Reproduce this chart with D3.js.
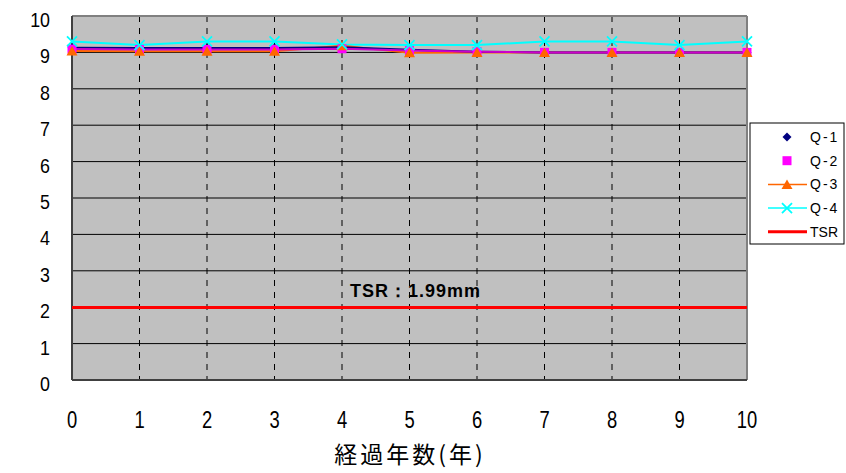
<!DOCTYPE html>
<html><head><meta charset="utf-8">
<script src="https://cdn.jsdelivr.net/npm/d3@7"></script>
<style>body{margin:0;background:#fff}</style>
</head><body>
<svg id="c" width="846" height="473"></svg>
<script>
const years = [0,1,2,3,4,5,6,7,8,9,10];
const q1 = [9.13,9.12,9.12,9.12,9.14,9.07,9.02,9.0,9.0,9.0,9.0];
const q2 = [9.09,9.08,9.08,9.08,9.1,9.05,9.02,9.0,9.0,9.0,9.0];
const q3 = [9.04,9.03,9.03,9.03,9.18,8.99,9.0,9.0,9.0,9.0,9.0];
const q4 = [9.3,9.2,9.3,9.3,9.22,9.2,9.2,9.3,9.3,9.2,9.3];
const tsr = 1.99;
const yTicks = [0,1,2,3,4,5,6,7,8,9,10];
const xLabel = "経過年数(年)";
const tsrLabel = "TSR：1.99mm";
const seriesNames = ["Q-1","Q-2","Q-3","Q-4","TSR"];

const svg = d3.select("#c");
const L=72, R=747, T=16, B=380;
const x = d3.scaleLinear().domain([0,10]).range([L,R]);
const y = d3.scaleLinear().domain([0,10]).range([B,T]);
const font = "'Liberation Sans', Arial, sans-serif";

svg.append("rect").attr("x",L).attr("y",T).attr("width",R-L).attr("height",B-T).attr("fill","#c0c0c0");
svg.append("g").selectAll("line").data(yTicks.filter(d=>d>0&&d<10)).join("line")
  .attr("x1",L).attr("x2",R).attr("y1",d=>y(d)).attr("y2",d=>y(d)).attr("stroke","#000").attr("stroke-width",1);
svg.append("g").selectAll("line").data(years.filter(d=>d>0&&d<10)).join("line")
  .attr("x1",d=>x(d)).attr("x2",d=>x(d)).attr("y1",T).attr("y2",B).attr("stroke","#000").attr("stroke-width",1).attr("stroke-dasharray","6,6");
svg.append("line").attr("x1",L).attr("x2",R).attr("y1",T).attr("y2",T).attr("stroke","#808080").attr("stroke-width",2);
svg.append("line").attr("x1",R).attr("x2",R).attr("y1",T).attr("y2",B).attr("stroke","#808080").attr("stroke-width",2);
svg.append("line").attr("x1",L).attr("x2",L).attr("y1",T).attr("y2",B).attr("stroke","#404040").attr("stroke-width",2);
svg.append("line").attr("x1",L).attr("x2",R).attr("y1",B).attr("y2",B).attr("stroke","#404040").attr("stroke-width",2);

// condensed-looking tick labels via horizontal scaling
svg.append("g").selectAll("text").data(yTicks).join("text")
  .attr("transform",d=>`translate(50,${y(d)+11}) scale(0.85,1)`).attr("text-anchor","end")
  .attr("font-family",font).attr("font-size",21).text(d=>d);
svg.append("g").selectAll("text").data(years).join("text")
  .attr("transform",d=>`translate(${x(d)},428) scale(0.8,1)`).attr("text-anchor","middle")
  .attr("font-family",font).attr("font-size",23).text(d=>d);
svg.append("text").attr("x",410).attr("y",463).attr("text-anchor","middle")
  .attr("font-family","'Noto Sans CJK JP', sans-serif").attr("font-size",23).attr("letter-spacing",3).text(xLabel);

svg.append("line").attr("x1",L).attr("x2",R).attr("y1",y(tsr)).attr("y2",y(tsr)).attr("stroke","#ff0000").attr("stroke-width",3);
svg.append("text").attr("x",350).attr("y",297).attr("font-family",font).attr("font-weight","bold").attr("font-size",18)
  .attr("textLength",130).attr("lengthAdjust","spacing").text(tsrLabel);

const line = d3.line().x((d,i)=>x(years[i])).y(d=>y(d));
const series = [
  {v:q4,c:"#00ffff",m:"x"},
  {v:q3,c:"#ff6600",m:"tri"},
  {v:q1,c:"#000080",m:"dia"},
  {v:q2,c:"#cc00cc",m:"sq",mc:"#ff00ff"},
];
function marker(g,type,color,cx,cy){
  if(type==="dia") g.append("path").attr("d",`M${cx},${cy-4.5}L${cx+4.5},${cy}L${cx},${cy+4.5}L${cx-4.5},${cy}Z`).attr("fill",color);
  else if(type==="sq") g.append("rect").attr("x",cx-4.5).attr("y",cy-4.5).attr("width",9).attr("height",9).attr("fill",color);
  else if(type==="tri") g.append("path").attr("d",`M${cx},${cy-5}L${cx+5.5},${cy+4.5}L${cx-5.5},${cy+4.5}Z`).attr("fill",color);
  else if(type==="x") g.append("path").attr("d",`M${cx-5},${cy-5}L${cx+5},${cy+5}M${cx+5},${cy-5}L${cx-5},${cy+5}`).attr("stroke",color).attr("stroke-width",1.8);
}
series.forEach(s=>{
  svg.append("path").datum(s.v).attr("d",line).attr("fill","none").attr("stroke",s.c).attr("stroke-width",2);
});
const mg = svg.append("g");
[series[2],series[3],series[1],series[0]].forEach(s=>{
  s.v.forEach((v,i)=>marker(mg,s.m,s.mc||s.c,x(years[i]),y(v)));
});

const lg = svg.append("g");
lg.append("rect").attr("x",750).attr("y",123).attr("width",94).attr("height",121).attr("fill","#fff").attr("stroke","#000").attr("stroke-width",1);
const leg = [
  {n:seriesNames[0],c:"#000080",m:"dia",line:false},
  {n:seriesNames[1],c:"#ff00ff",m:"sq",line:false},
  {n:seriesNames[2],c:"#ff6600",m:"tri",line:true},
  {n:seriesNames[3],c:"#00ffff",m:"x",line:true},
  {n:seriesNames[4],c:"#ff0000",m:null,line:true,w:3},
];
leg.forEach((d,i)=>{
  const cy = 137 + i*23.7;
  if(d.line) lg.append("line").attr("x1",768).attr("x2",807).attr("y1",cy).attr("y2",cy).attr("stroke",d.c).attr("stroke-width",d.w||1.5);
  if(d.m) marker(lg,d.m,d.c,787,cy);
  lg.append("text").attr("x",810).attr("y",cy+5).attr("font-family",font).attr("font-size",14)
    .attr("letter-spacing",d.n==="TSR"?0:2).text(d.n);
});
</script>
</body></html>
